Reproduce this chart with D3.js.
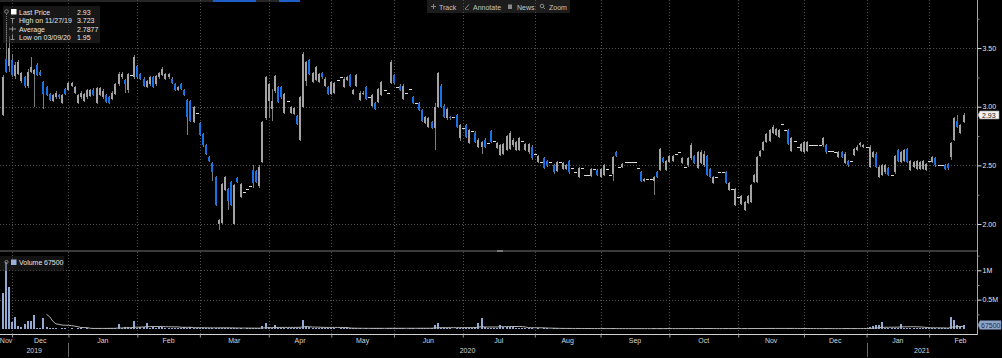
<!DOCTYPE html>
<html><head><meta charset="utf-8">
<script src="https://cdn.jsdelivr.net/npm/d3@7"></script>
<style>html,body{margin:0;padding:0;background:#000;overflow:hidden}svg{display:block}</style>
</head><body><svg id="c" width="1002" height="358"></svg>
<script>
// ---- DATA (daily candles, 26 Nov 2019 .. Feb 2021) ----
const opens=[
2.93,3.41,3.35,3.40,3.26,3.28,3.22,3.25,3.18,3.30,
3.28,3.36,3.30,3.21,3.17,3.11,3.05,3.08,3.10,3.03,
3.15,3.14,3.18,3.12,3.03,3.08,3.05,3.08,3.09,3.14,
3.03,3.10,3.08,3.10,3.08,3.07,3.11,3.19,3.25,3.23,
3.14,3.27,3.25,3.35,3.28,3.24,3.17,3.19,3.25,3.19,
3.25,3.27,3.24,3.25,3.24,3.19,3.14,3.19,3.14,3.06,
3.05,2.87,2.95,2.86,2.77,2.67,2.57,2.52,2.40,2.00,
2.01,2.29,2.30,2.36,2.00,2.39,2.23,2.27,2.30,2.32,
2.46,2.45,2.32,2.53,2.90,3.05,2.98,3.13,3.17,3.17,
2.95,3.05,2.95,2.94,2.92,2.72,3.00,3.22,3.40,3.21,
3.23,3.21,3.29,3.18,3.17,3.11,3.12,3.23,3.25,3.17,
3.23,3.27,3.11,3.18,3.06,3.11,3.17,3.08,3.01,3.03,
3.04,3.10,3.14,3.12,3.20,3.27,3.17,3.18,3.07,3.12,
3.15,3.08,3.03,3.03,2.97,2.86,2.83,2.87,2.82,3.00,
3.18,3.01,2.90,2.91,2.91,2.93,2.73,2.82,2.84,2.69,
2.79,2.78,2.66,2.66,2.72,2.69,2.79,2.71,2.65,2.59,
2.60,2.63,2.64,2.67,2.63,2.63,2.71,2.63,2.61,2.66,
2.60,2.53,2.53,2.56,2.54,2.53,2.50,2.45,2.53,2.47,
2.47,2.54,2.48,2.44,2.40,2.48,2.42,2.42,2.41,2.47,
2.46,2.40,2.42,2.47,2.42,2.43,2.61,2.49,2.49,2.53,
2.53,2.53,2.53,2.48,2.44,2.37,2.38,2.38,2.37,2.44,
2.46,2.56,2.46,2.53,2.54,2.60,2.61,2.52,2.49,2.50,
2.56,2.58,2.48,2.52,2.50,2.58,2.47,2.35,2.40,2.44,
2.44,2.44,2.29,2.30,2.16,2.23,2.17,2.12,2.18,2.19,
2.36,2.36,2.58,2.63,2.70,2.71,2.78,2.76,2.74,2.85,
2.80,2.80,2.62,2.71,2.66,2.62,2.61,2.62,2.67,2.67,
2.67,2.67,2.67,2.67,2.62,2.62,2.61,2.57,2.61,2.52,
2.54,2.54,2.59,2.63,2.67,2.66,2.66,2.49,2.57,2.60,
2.40,2.42,2.44,2.48,2.42,2.44,2.63,2.53,2.54,2.64,
2.46,2.49,2.47,2.47,2.47,2.46,2.54,2.53,2.56,2.50,
2.50,2.50,2.51,2.57,2.72,2.88,2.78,2.87];
const highs=[
3.27,3.72,3.60,3.45,3.38,3.40,3.30,3.26,3.32,3.42,
3.32,3.37,3.31,3.22,3.18,3.12,3.11,3.13,3.11,3.11,
3.16,3.21,3.21,3.18,3.11,3.13,3.12,3.15,3.15,3.16,
3.17,3.17,3.15,3.11,3.09,3.13,3.20,3.30,3.30,3.24,
3.29,3.27,3.44,3.36,3.29,3.25,3.23,3.26,3.26,3.27,
3.30,3.34,3.29,3.29,3.25,3.20,3.18,3.20,3.15,3.07,
3.06,3.01,2.95,2.87,2.78,2.68,2.58,2.53,2.41,2.04,
2.35,2.41,2.31,2.37,2.34,2.40,2.35,2.27,2.30,2.32,
2.50,2.46,2.50,2.88,3.26,3.20,3.15,3.27,3.18,3.18,
3.12,3.05,3.01,3.00,2.93,3.09,3.47,3.39,3.41,3.30,
3.35,3.29,3.30,3.25,3.18,3.22,3.21,3.23,3.25,3.25,
3.26,3.28,3.15,3.28,3.13,3.13,3.18,3.08,3.11,3.04,
3.16,3.22,3.14,3.12,3.40,3.28,3.17,3.19,3.19,3.12,
3.15,3.09,3.03,3.04,2.98,2.92,2.91,2.88,3.03,3.30,
3.19,3.02,2.99,2.92,2.91,2.94,2.85,2.82,2.85,2.81,
2.79,2.79,2.73,2.71,2.73,2.69,2.80,2.71,2.70,2.68,
2.69,2.76,2.79,2.73,2.71,2.74,2.71,2.69,2.69,2.67,
2.60,2.59,2.53,2.57,2.55,2.53,2.51,2.54,2.53,2.53,
2.51,2.55,2.48,2.44,2.49,2.48,2.42,2.42,2.48,2.47,
2.47,2.48,2.51,2.47,2.42,2.58,2.62,2.49,2.52,2.53,
2.53,2.53,2.53,2.48,2.45,2.39,2.38,2.38,2.41,2.45,
2.65,2.57,2.55,2.59,2.59,2.60,2.61,2.57,2.49,2.57,
2.69,2.59,2.62,2.63,2.62,2.59,2.48,2.41,2.40,2.44,
2.44,2.45,2.36,2.30,2.31,2.23,2.25,2.20,2.25,2.34,
2.43,2.58,2.63,2.71,2.78,2.81,2.84,2.82,2.81,2.85,
2.80,2.81,2.74,2.71,2.66,2.69,2.71,2.71,2.67,2.67,
2.67,2.67,2.74,2.68,2.62,2.62,2.61,2.62,2.62,2.61,
2.55,2.54,2.65,2.67,2.70,2.68,2.66,2.67,2.62,2.61,
2.50,2.51,2.51,2.49,2.42,2.59,2.64,2.62,2.64,2.65,
2.55,2.54,2.55,2.54,2.55,2.52,2.54,2.58,2.57,2.50,
2.50,2.51,2.52,2.70,2.91,2.93,2.85,2.95];
const lows=[
2.92,3.29,3.30,3.25,3.24,3.27,3.20,3.16,3.16,3.29,
3.00,3.26,3.26,2.98,3.09,3.05,3.04,3.07,3.07,3.02,
3.10,3.13,3.17,3.11,3.02,3.07,3.04,3.07,3.08,3.09,
3.02,3.09,3.07,3.03,3.02,3.06,3.10,3.18,3.24,3.12,
3.12,3.27,3.24,3.24,3.23,3.17,3.16,3.18,3.16,3.18,
3.24,3.26,3.23,3.24,3.19,3.13,3.13,3.14,3.09,2.76,
2.87,2.86,2.95,2.75,2.66,2.59,2.53,2.37,2.15,1.95,
2.00,2.28,2.12,2.15,1.99,2.35,2.22,2.27,2.30,2.32,
2.31,2.35,2.31,2.52,2.89,2.90,2.88,3.12,3.03,3.07,
2.94,3.05,2.94,2.93,2.84,2.71,2.99,3.18,3.27,3.20,
3.22,3.20,3.24,3.17,3.10,3.10,3.11,3.23,3.25,3.16,
3.22,3.17,3.10,3.17,3.05,3.10,3.06,3.08,3.00,2.97,
3.03,3.09,3.14,3.12,3.19,3.19,3.17,3.13,3.06,3.12,
3.15,3.02,3.03,2.96,2.87,2.85,2.82,2.81,2.63,2.99,
2.99,2.90,2.89,2.89,2.91,2.82,2.71,2.82,2.73,2.68,
2.79,2.69,2.65,2.60,2.65,2.69,2.69,2.71,2.64,2.58,
2.59,2.62,2.63,2.66,2.62,2.62,2.71,2.62,2.60,2.55,
2.60,2.52,2.53,2.47,2.49,2.53,2.43,2.44,2.53,2.46,
2.46,2.43,2.48,2.44,2.39,2.48,2.42,2.42,2.40,2.47,
2.41,2.39,2.41,2.47,2.42,2.37,2.57,2.49,2.48,2.53,
2.53,2.53,2.53,2.48,2.36,2.36,2.38,2.38,2.25,2.39,
2.45,2.52,2.45,2.52,2.53,2.60,2.61,2.51,2.49,2.49,
2.55,2.51,2.47,2.51,2.49,2.41,2.39,2.34,2.40,2.44,
2.44,2.34,2.28,2.30,2.15,2.23,2.16,2.11,2.17,2.18,
2.35,2.35,2.57,2.62,2.69,2.70,2.77,2.75,2.73,2.85,
2.80,2.67,2.61,2.71,2.66,2.61,2.60,2.61,2.67,2.67,
2.67,2.67,2.66,2.60,2.62,2.62,2.61,2.56,2.56,2.51,
2.49,2.54,2.58,2.62,2.66,2.65,2.66,2.48,2.56,2.48,
2.39,2.41,2.43,2.41,2.42,2.43,2.53,2.52,2.53,2.52,
2.45,2.48,2.46,2.46,2.46,2.45,2.54,2.52,2.49,2.50,
2.50,2.46,2.46,2.55,2.71,2.82,2.77,2.86];
const closes=[
3.25,3.30,3.50,3.27,3.36,3.38,3.29,3.18,3.30,3.34,
3.31,3.27,3.27,3.11,3.10,3.06,3.10,3.12,3.08,3.10,
3.11,3.20,3.20,3.17,3.10,3.12,3.11,3.14,3.14,3.10,
3.16,3.16,3.13,3.04,3.03,3.12,3.19,3.28,3.28,3.19,
3.28,3.27,3.42,3.25,3.24,3.18,3.22,3.25,3.17,3.26,
3.29,3.32,3.28,3.28,3.20,3.14,3.17,3.15,3.10,2.91,
2.88,3.00,2.95,2.76,2.67,2.60,2.54,2.44,2.16,2.03,
2.34,2.40,2.20,2.16,2.33,2.36,2.34,2.27,2.30,2.32,
2.35,2.36,2.49,2.87,3.25,3.19,3.05,3.26,3.04,3.08,
3.11,3.05,3.00,2.99,2.85,3.08,3.45,3.38,3.28,3.29,
3.34,3.28,3.25,3.24,3.11,3.21,3.20,3.23,3.25,3.24,
3.25,3.18,3.14,3.27,3.12,3.12,3.07,3.08,3.10,2.98,
3.15,3.21,3.14,3.12,3.38,3.20,3.17,3.14,3.18,3.12,
3.15,3.03,3.03,2.97,2.88,2.91,2.90,2.82,3.00,3.29,
3.00,2.91,2.98,2.90,2.91,2.83,2.84,2.82,2.74,2.80,
2.79,2.70,2.72,2.70,2.66,2.69,2.70,2.71,2.69,2.67,
2.68,2.75,2.78,2.72,2.70,2.73,2.71,2.68,2.68,2.56,
2.60,2.58,2.53,2.48,2.50,2.53,2.44,2.53,2.53,2.52,
2.50,2.44,2.48,2.44,2.48,2.48,2.42,2.42,2.47,2.47,
2.42,2.47,2.50,2.47,2.42,2.57,2.58,2.49,2.51,2.53,
2.53,2.53,2.53,2.48,2.37,2.38,2.38,2.38,2.40,2.40,
2.64,2.53,2.54,2.58,2.58,2.60,2.61,2.56,2.49,2.56,
2.67,2.52,2.61,2.61,2.60,2.42,2.40,2.40,2.40,2.44,
2.44,2.35,2.35,2.30,2.30,2.23,2.24,2.19,2.24,2.33,
2.42,2.57,2.62,2.70,2.77,2.80,2.83,2.81,2.80,2.85,
2.80,2.68,2.73,2.71,2.66,2.68,2.70,2.70,2.67,2.67,
2.67,2.67,2.73,2.61,2.62,2.62,2.61,2.61,2.57,2.60,
2.50,2.54,2.64,2.66,2.69,2.67,2.66,2.66,2.61,2.49,
2.49,2.50,2.50,2.42,2.42,2.58,2.54,2.61,2.63,2.53,
2.54,2.53,2.54,2.53,2.54,2.51,2.54,2.57,2.50,2.50,
2.50,2.47,2.48,2.69,2.90,2.83,2.84,2.93];
// volume in thousands of shares
const volumesK=[
610,1140,720,120,210,50,40,90,130,130,
240,20,20,180,40,15,10,12,8,10,
14,8,10,6,12,9,7,10,8,12,
15,10,8,12,20,14,25,90,18,40,
30,10,140,25,30,35,100,20,30,25,
28,30,22,18,15,12,20,14,30,25,
40,18,12,15,20,14,18,22,16,25,
20,14,16,12,18,10,12,8,9,10,
14,12,16,50,100,30,22,70,20,18,
15,10,12,14,16,20,150,50,30,20,
18,12,14,10,16,12,10,8,9,14,
12,16,10,14,9,8,12,7,10,11,
14,12,8,9,25,14,10,12,15,8,
9,12,8,14,16,12,10,14,70,100,
25,18,12,10,8,14,16,10,25,12,
10,40,100,190,30,14,22,10,16,70,
30,30,30,30,18,14,10,12,10,12,
8,10,7,12,9,8,10,12,7,9,
8,10,6,7,9,6,5,6,8,6,
7,8,9,6,5,10,8,6,7,5,
5,6,5,6,8,7,5,5,9,8,
12,8,10,9,7,6,6,8,6,7,
10,8,9,8,7,10,9,8,6,6,
5,9,8,6,10,6,8,9,8,10,
12,14,10,9,10,11,9,8,8,6,
6,10,9,6,6,8,9,8,6,6,
5,5,8,9,6,6,5,8,7,15,
9,6,10,8,7,8,6,30,50,70,
70,120,20,15,18,22,20,80,20,18,
20,16,14,12,15,14,10,12,14,10,
10,12,18,210,160,70,50,67.5];
const monthNames=["Nov","Dec","Jan","Feb","Mar","Apr","May","Jun","Jul","Aug","Sep","Oct","Nov","Dec","Jan","Feb"];
const monthStart=[-17,3,21,43,63,85,105,125,147,170,191,213,235,256,276,296];
const yearNames=["2019","2020","2021"];
const yearStart=[-228,21,276];
const priceTicks=[2.0,2.5,3.0,3.5];
const priceMinor=[2.25,2.75,3.25,3.75];
const volTicks=[500000,1000000];
const volMinor=[250000,750000,1250000];
const legendLabels=["Last Price","High on 11/27/19","Average","Low on 03/09/20"];
const legendValues=["2.93","3.723","2.7877","1.95"];
const lastPrice=2.93, lastVolume=67500;
const toolbarItems=["Track","Annotate","News","Zoom"];

// ---- CHART ----
const svg=d3.select("#c");
const FONT="'Liberation Sans', Arial, sans-serif";
const plotRight=977;
const N=closes.length;
const x=d3.scaleLinear().domain([0,N-1]).range([2.7,963.6]);
const y=d3.scaleLinear().domain([1.787,3.910]).range([249,0]);
const yv=d3.scaleLinear().domain([0,1e6]).range([329,270.3]);

svg.append("rect").attr("width",1002).attr("height",358).attr("fill","#000");
const defs=svg.append("defs");
defs.append("clipPath").attr("id","cp").append("rect").attr("x",0).attr("y",0).attr("width",plotRight).attr("height",249.5);
defs.append("clipPath").attr("id","cv").append("rect").attr("x",0).attr("y",252).attr("width",plotRight).attr("height",82);

// top strip
svg.append("rect").attr("x",0).attr("y",0).attr("width",300).attr("height",2).attr("fill","#262626");
svg.append("rect").attr("x",213).attr("y",0).attr("width",43).attr("height",2).attr("fill","#1f5fc8");
svg.append("rect").attr("x",279).attr("y",0).attr("width",21).attr("height",2).attr("fill","#1f5fc8");

// toolbar background
svg.append("rect").attr("x",427).attr("y",0).attr("width",143).attr("height",13).attr("fill","#1c1c1c");

// panel separator
svg.append("rect").attr("x",0).attr("y",250).attr("width",plotRight).attr("height",2).attr("fill","#3a3a3a");
svg.append("rect").attr("x",497).attr("y",250).attr("width",6).attr("height",2).attr("fill","#777");

// gridlines
const grid=svg.append("g").attr("stroke","#505050").attr("stroke-width",1).attr("stroke-dasharray","1,2");
monthStart.slice(1).forEach(m=>{
  const xx=Math.round(x(m))+0.5;
  grid.append("line").attr("x1",xx).attr("x2",xx).attr("y1",0).attr("y2",249);
  grid.append("line").attr("x1",xx).attr("x2",xx).attr("y1",252).attr("y2",334);
});
priceTicks.forEach(t=>{
  const yy=Math.round(y(t))+0.5;
  grid.append("line").attr("x1",0).attr("x2",plotRight).attr("y1",yy).attr("y2",yy);
});
volTicks.forEach(t=>{
  const yy=Math.round(yv(t))+0.5;
  grid.append("line").attr("x1",0).attr("x2",plotRight).attr("y1",yy).attr("y2",yy);
});

// candles
const candles=d3.range(N).map(i=>({i,o:opens[i],h:highs[i],l:lows[i],c:closes[i]}));
const cg=svg.append("g").attr("clip-path","url(#cp)").attr("shape-rendering","crispEdges");
candles.forEach(d=>{
  const cx=Math.round(x(d.i));
  if(d.h>d.l){
    cg.append("rect").attr("x",cx).attr("y",y(d.h)).attr("width",1).attr("height",Math.max(1,y(d.l)-y(d.h))).attr("fill","#7d7d7d");
  }
  if(d.o===d.c){
    cg.append("rect").attr("x",cx-1).attr("y",Math.round(y(d.c))).attr("width",3).attr("height",1).attr("fill","#dcdcdc");
  } else {
    const top=y(Math.max(d.o,d.c)), bot=y(Math.min(d.o,d.c));
    cg.append("rect").attr("x",cx-1).attr("y",top).attr("width",2).attr("height",Math.max(1,bot-top))
      .attr("fill",d.c>d.o?"#a3a3a3":"#1a72e8");
  }
});

// volume bars
const vg=svg.append("g").attr("clip-path","url(#cv)").attr("shape-rendering","crispEdges");
vg.selectAll("rect").data(volumesK).join("rect")
  .attr("x",(d,i)=>Math.round(x(i))-1).attr("width",2)
  .attr("y",d=>yv(d*1000)).attr("height",d=>Math.max(0.6,yv(0)-yv(d*1000)))
  .attr("fill","#93aad4");
// volume moving average (15 day)
const maPeriod=15;
const ma=d3.range(maPeriod-1,N).map(i=>({i,v:d3.mean(volumesK.slice(i-maPeriod+1,i+1))*1000}));
vg.append("path").datum(ma).attr("fill","none").attr("stroke","#b4b4b4").attr("stroke-width",1)
  .attr("shape-rendering","auto")
  .attr("d",d3.line().x(d=>x(d.i)).y(d=>yv(d.v)));

// right axis
svg.append("line").attr("x1",plotRight+0.5).attr("x2",plotRight+0.5).attr("y1",0).attr("y2",335).attr("stroke","#a8a8a8");
function styleAxis(g){
  g.select(".domain").remove();
  g.selectAll(".tick line").attr("stroke","#e0e0e0");
  g.selectAll(".tick text").attr("fill","#e6e6e6").attr("font-family",FONT).attr("font-size","7px").attr("x",5);
}
svg.append("g").attr("transform",`translate(${plotRight+0.5},0)`)
  .call(d3.axisRight(y).tickValues(priceTicks).tickFormat(d3.format(".2f")).tickSize(4).tickSizeOuter(0)).call(styleAxis);
svg.append("g").attr("transform",`translate(${plotRight+0.5},0)`)
  .call(d3.axisRight(y).tickValues(priceMinor).tickFormat("").tickSize(2).tickSizeOuter(0)).call(g=>{g.select(".domain").remove();g.selectAll("line").attr("stroke","#888");});
svg.append("g").attr("transform",`translate(${plotRight+0.5},0)`)
  .call(d3.axisRight(yv).tickValues(volTicks).tickFormat(d=>d>=1e6?(d/1e6)+"M":(d/1e6)+"M").tickSize(4).tickSizeOuter(0)).call(styleAxis);
svg.append("g").attr("transform",`translate(${plotRight+0.5},0)`)
  .call(d3.axisRight(yv).tickValues(volMinor).tickFormat("").tickSize(2).tickSizeOuter(0)).call(g=>{g.select(".domain").remove();g.selectAll("line").attr("stroke","#888");});

// last price tag
const lp=y(lastPrice);
svg.append("path").attr("d",`M${plotRight+1},${lp} L${plotRight+3},${lp-4} L${plotRight+22},${lp-4} L${plotRight+22},${lp+4} L${plotRight+3},${lp+4} Z`)
  .attr("fill","#f2f2f2").attr("stroke","#9a9a9a").attr("stroke-width",0.6);
svg.append("text").attr("x",plotRight+5).attr("y",lp+2.6).text(d3.format(".2f")(lastPrice))
  .attr("font-family",FONT).attr("font-size","7px").attr("fill","#222");
// last volume tag
const lv=yv(lastVolume);
svg.append("path").attr("d",`M${plotRight+1},${lv} L${plotRight+3},${lv-4.3} L${plotRight+24},${lv-4.3} L${plotRight+24},${lv+4.3} L${plotRight+3},${lv+4.3} Z`)
  .attr("fill","#8fa6c9").attr("stroke","#6d84a8").attr("stroke-width",0.6);
svg.append("text").attr("x",plotRight+4).attr("y",lv+2.6).text(lastVolume)
  .attr("font-family",FONT).attr("font-size","7px").attr("fill","#1b2b47");

// bottom x axis
const axisY=334.5;
svg.append("g").attr("transform",`translate(0,${axisY})`)
  .call(d3.axisBottom(x).tickValues(monthStart.slice(1)).tickFormat("").tickSize(3).tickSizeOuter(0))
  .call(g=>{g.select(".domain").attr("d",`M0,0H${plotRight}`).attr("stroke","#d0d0d0");g.selectAll(".tick line").attr("stroke","#9a9a9a");});
const mtxt=svg.append("g").attr("font-family",FONT).attr("font-size","7px").attr("fill","#d6d6d6").attr("text-anchor","middle");
monthNames.forEach((m,k)=>{
  const a=Math.max(0,x(monthStart[k]));
  const b=k<monthNames.length-1?x(monthStart[k+1]):x(monthStart[k]+20);
  let cx=(a+b)/2;
  mtxt.append("text").attr("x",cx).attr("y",343).text(m);
});
yearNames.forEach((yn,k)=>{
  const a=Math.max(0,x(yearStart[k]));
  const b=k<yearNames.length-1?x(yearStart[k+1]):plotRight;
  mtxt.append("text").attr("x",(a+b)/2).attr("y",352.5).text(yn);
  if(k>0){
    const xx=Math.round(a)+0.5;
    svg.append("line").attr("x1",xx).attr("x2",xx).attr("y1",343).attr("y2",357).attr("stroke","#6a6a6a");
  }
});

// price legend
const lg=svg.append("g");
lg.append("rect").attr("x",3).attr("y",6).attr("width",97).attr("height",37).attr("fill","#2a2a2a").attr("opacity",0.55);
lg.append("circle").attr("cx",6.5).attr("cy",11.5).attr("r",1.8).attr("fill","none").attr("stroke","#999").attr("stroke-width",0.8);
lg.append("line").attr("x1",6.5).attr("x2",6.5).attr("y1",14).attr("y2",42).attr("stroke","#777").attr("stroke-dasharray","1,1");
lg.append("rect").attr("x",11).attr("y",9).attr("width",5.5).attr("height",5.5).attr("fill","#fff");
const gl=lg.append("g").attr("stroke","#9a9a9a").attr("stroke-width",0.9);
gl.append("line").attr("x1",10.5).attr("x2",14.5).attr("y1",18.5).attr("y2",18.5);
gl.append("line").attr("x1",12.5).attr("x2",12.5).attr("y1",18.5).attr("y2",23.5);
gl.append("line").attr("x1",9).attr("x2",16).attr("y1",29).attr("y2",29);
gl.append("line").attr("x1",12.5).attr("x2",12.5).attr("y1",26.5).attr("y2",31.5);
gl.append("line").attr("x1",12.5).attr("x2",12.5).attr("y1",34.5).attr("y2",39.5);
gl.append("line").attr("x1",10.5).attr("x2",14.5).attr("y1",39.5).attr("y2",39.5);
legendLabels.forEach((t,k)=>{
  lg.append("text").attr("x",19).attr("y",15.2+k*8.2).text(t).attr("font-family",FONT).attr("font-size","7px").attr("fill","#e4e4e4");
  lg.append("text").attr("x",77).attr("y",15.2+k*8.2).text(legendValues[k]).attr("font-family",FONT).attr("font-size","7px").attr("fill","#e4e4e4");
});

// volume legend
const vl=svg.append("g");
vl.append("rect").attr("x",0).attr("y",256).attr("width",64).attr("height",15).attr("fill","#2a2a2a").attr("opacity",0.45);
vl.append("circle").attr("cx",6.5).attr("cy",262).attr("r",1.6).attr("fill","none").attr("stroke","#999").attr("stroke-width",0.8);
vl.append("rect").attr("x",11).attr("y",259.5).attr("width",5.5).attr("height",5.5).attr("fill","#9ab0d8");
vl.append("text").attr("x",19).attr("y",265.3).text("Volume").attr("font-family",FONT).attr("font-size","7px").attr("fill","#e4e4e4");
vl.append("text").attr("x",44).attr("y",265.3).text(lastVolume).attr("font-family",FONT).attr("font-size","7px").attr("fill","#e4e4e4");

// toolbar
const tb=svg.append("g");
const tbText=[439,473,517,549];
toolbarItems.forEach((t,k)=>{
  tb.append("text").attr("x",tbText[k]).attr("y",9.5).text(t).attr("font-family",FONT).attr("font-size","7px").attr("fill","#c4c4c4");
});
const ic=tb.append("g").attr("stroke","#8a8a8a").attr("stroke-width",1).attr("fill","none");
ic.append("line").attr("x1",431).attr("x2",436).attr("y1",6.5).attr("y2",6.5);
ic.append("line").attr("x1",433.5).attr("x2",433.5).attr("y1",4).attr("y2",9);
ic.append("line").attr("x1",465).attr("x2",469).attr("y1",9).attr("y2",4.5);
ic.append("line").attr("x1",465).attr("x2",469).attr("y1",9.5).attr("y2",9.5).attr("stroke-width",0.6);
ic.append("rect").attr("x",508).attr("y",4.5).attr("width",4).attr("height",4.5).attr("fill","#8a8a8a").attr("stroke","none");
ic.append("circle").attr("cx",542).attr("cy",6).attr("r",1.8);
ic.append("line").attr("x1",543.3).attr("x2",545).attr("y1",7.3).attr("y2",9);
</script>
</body></html>
